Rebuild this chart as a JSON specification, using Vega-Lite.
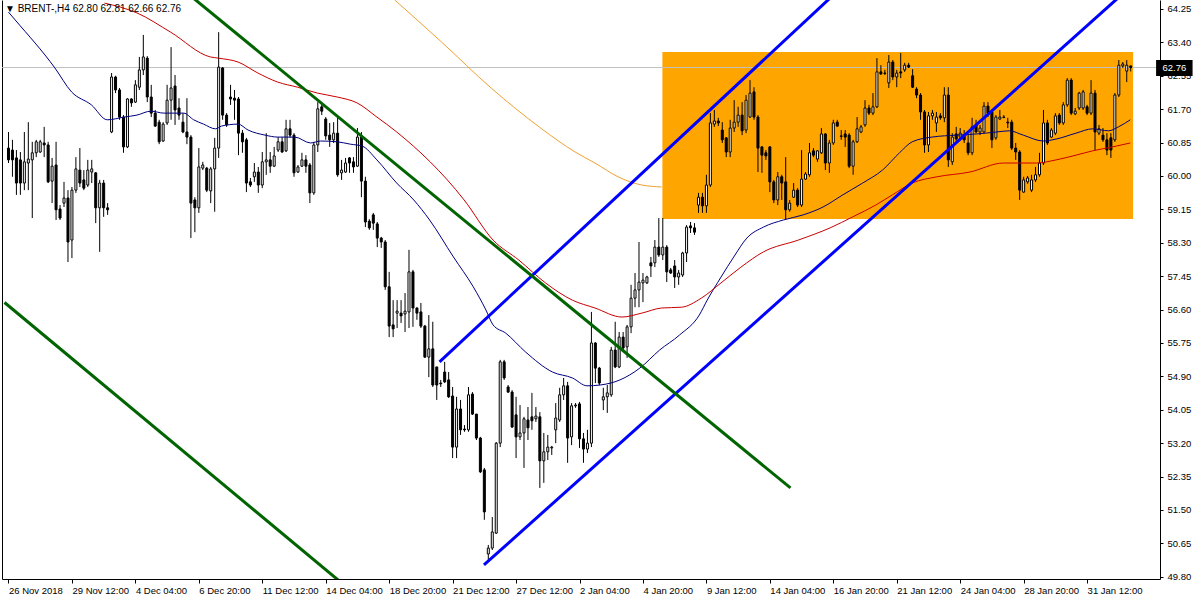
{
"$schema": "https://vega.github.io/schema/vega-lite/v6.json",
"width": 1158, "height": 579,
"autosize": {"type": "none"},
"padding": {"left": 2, "top": 0, "right": 40, "bottom": 21},
"background": "white",
"title": {"text": "▼  BRENT-,H4  62.80 62.81 62.66 62.76", "anchor": "start", "frame": "group", "offset": -14, "dx": 3, "font": "Liberation Sans", "fontSize": 10, "fontWeight": "normal", "color": "black"},
"config": {"view": {"stroke": null}},
"datasets": {
"candles": [
{"i":0,"o":60.71,"h":61.12,"l":60.33,"c":60.41},{"i":1,"o":60.66,"h":60.92,"l":59.98,"c":60.41},{"i":2,"o":60.46,"h":60.66,"l":59.52,"c":59.82},{"i":3,"o":60.41,"h":60.61,"l":59.52,"c":59.82},{"i":4,"o":59.82,"h":61.12,"l":59.64,"c":60.36},{"i":5,"o":60.33,"h":61.37,"l":59.64,"c":60.43},{"i":6,"o":60.41,"h":60.87,"l":58.93,"c":60.59},{"i":7,"o":60.59,"h":60.92,"l":60.48,"c":60.87},{"i":8,"o":60.61,"h":60.92,"l":60.59,"c":60.87},{"i":9,"o":60.84,"h":61.25,"l":60.48,"c":60.79},
{"i":10,"o":60.79,"h":60.87,"l":59.82,"c":59.85},{"i":11,"o":59.87,"h":60.46,"l":59.31,"c":60.25},{"i":12,"o":60.28,"h":60.87,"l":58.88,"c":59.14},{"i":13,"o":59.16,"h":59.26,"l":58.88,"c":58.93},{"i":14,"o":59.31,"h":59.85,"l":59.21,"c":59.44},{"i":15,"o":59.44,"h":59.64,"l":57.81,"c":58.32},{"i":16,"o":58.37,"h":59.72,"l":57.91,"c":59.64},{"i":17,"o":59.64,"h":60.48,"l":59.57,"c":60.18},{"i":18,"o":60.15,"h":60.71,"l":59.72,"c":59.82},{"i":19,"o":59.9,"h":60.15,"l":59.64,"c":59.69},
{"i":20,"o":59.77,"h":60.41,"l":59.72,"c":60.15},{"i":21,"o":60.1,"h":60.41,"l":59.82,"c":60.18},{"i":22,"o":60.08,"h":60.1,"l":58.8,"c":59.19},{"i":23,"o":59.19,"h":59.9,"l":58.07,"c":59.82},{"i":24,"o":59.82,"h":59.9,"l":58.96,"c":59.19},{"i":25,"o":59.19,"h":59.31,"l":59.01,"c":59.14},{"i":26,"o":61.12,"h":62.62,"l":61.09,"c":62.52},{"i":27,"o":62.52,"h":62.55,"l":62.11,"c":62.19},{"i":28,"o":62.19,"h":62.24,"l":61.43,"c":61.5},{"i":29,"o":61.5,"h":61.55,"l":60.59,"c":60.74},
{"i":30,"o":60.74,"h":61.98,"l":60.71,"c":61.96},{"i":31,"o":61.96,"h":61.98,"l":61.76,"c":61.86},{"i":32,"o":61.88,"h":62.44,"l":61.86,"c":62.32},{"i":33,"o":62.26,"h":63.03,"l":62.19,"c":62.7},{"i":34,"o":62.7,"h":63.59,"l":62.57,"c":63.03},{"i":35,"o":63.0,"h":63.05,"l":61.88,"c":62.01},{"i":36,"o":62.01,"h":62.32,"l":61.5,"c":61.6},{"i":37,"o":61.6,"h":61.68,"l":61.25,"c":61.27},{"i":38,"o":61.37,"h":61.43,"l":60.81,"c":60.87},{"i":39,"o":60.89,"h":61.37,"l":60.87,"c":61.32},
{"i":40,"o":61.35,"h":62.32,"l":61.3,"c":61.93},{"i":41,"o":61.93,"h":63.28,"l":61.43,"c":62.24},{"i":42,"o":62.29,"h":62.57,"l":61.3,"c":61.68},{"i":43,"o":61.73,"h":61.98,"l":61.43,"c":61.55},{"i":44,"o":61.37,"h":61.6,"l":61.09,"c":61.12},{"i":45,"o":61.12,"h":61.98,"l":60.81,"c":60.99},{"i":46,"o":60.99,"h":61.04,"l":58.42,"c":59.31},{"i":47,"o":59.39,"h":59.46,"l":58.57,"c":59.19},{"i":48,"o":59.19,"h":60.71,"l":59.06,"c":60.23},{"i":49,"o":60.2,"h":60.36,"l":60.15,"c":60.28},
{"i":50,"o":60.2,"h":60.23,"l":59.59,"c":59.64},{"i":51,"o":59.62,"h":60.23,"l":59.31,"c":60.18},{"i":52,"o":60.18,"h":60.97,"l":59.09,"c":60.71},{"i":53,"o":60.71,"h":63.66,"l":60.46,"c":62.77},{"i":54,"o":62.75,"h":62.77,"l":61.43,"c":61.55},{"i":55,"o":61.55,"h":61.6,"l":61.25,"c":61.3},{"i":56,"o":62.01,"h":62.32,"l":61.81,"c":61.96},{"i":57,"o":61.98,"h":62.19,"l":61.43,"c":61.93},{"i":58,"o":61.96,"h":62.01,"l":60.53,"c":61.09},{"i":59,"o":61.09,"h":61.17,"l":60.59,"c":60.87},
{"i":60,"o":60.92,"h":60.97,"l":59.59,"c":59.82},{"i":61,"o":59.85,"h":59.95,"l":59.72,"c":59.77},{"i":62,"o":59.98,"h":60.33,"l":59.85,"c":60.1},{"i":63,"o":60.1,"h":60.23,"l":59.57,"c":59.77},{"i":64,"o":59.77,"h":60.61,"l":59.69,"c":60.36},{"i":65,"o":60.36,"h":61.09,"l":60.03,"c":60.41},{"i":66,"o":60.41,"h":60.61,"l":60.08,"c":60.25},{"i":67,"o":60.25,"h":60.74,"l":60.23,"c":60.51},{"i":68,"o":60.66,"h":60.99,"l":60.61,"c":60.87},{"i":69,"o":60.87,"h":60.99,"l":60.59,"c":60.61},
{"i":70,"o":60.64,"h":61.43,"l":60.61,"c":61.2},{"i":71,"o":61.2,"h":61.43,"l":60.97,"c":61.04},{"i":72,"o":61.04,"h":61.09,"l":59.98,"c":60.08},{"i":73,"o":60.1,"h":60.28,"l":60.08,"c":60.23},{"i":74,"o":60.25,"h":60.59,"l":60.23,"c":60.41},{"i":75,"o":60.41,"h":60.53,"l":60.08,"c":60.25},{"i":76,"o":60.28,"h":60.33,"l":59.31,"c":59.57},{"i":77,"o":59.57,"h":60.87,"l":59.52,"c":60.79},{"i":78,"o":60.79,"h":61.88,"l":60.61,"c":61.71},{"i":79,"o":61.76,"h":61.81,"l":61.55,"c":61.65},
{"i":80,"o":61.45,"h":61.5,"l":60.92,"c":61.02},{"i":81,"o":61.04,"h":61.35,"l":60.74,"c":60.92},{"i":82,"o":60.92,"h":61.37,"l":60.84,"c":61.09},{"i":83,"o":61.09,"h":61.48,"l":59.98,"c":60.03},{"i":84,"o":60.08,"h":60.41,"l":59.9,"c":60.15},{"i":85,"o":60.1,"h":60.46,"l":60.08,"c":60.33},{"i":86,"o":60.46,"h":60.48,"l":60.08,"c":60.33},{"i":87,"o":60.36,"h":60.48,"l":60.08,"c":60.23},{"i":88,"o":60.25,"h":61.22,"l":60.23,"c":60.99},{"i":89,"o":60.99,"h":61.12,"l":59.46,"c":59.87},
{"i":90,"o":59.87,"h":59.98,"l":58.7,"c":58.83},{"i":91,"o":58.85,"h":58.9,"l":58.63,"c":58.68},{"i":92,"o":59.01,"h":59.06,"l":58.63,"c":58.8},{"i":93,"o":58.78,"h":58.83,"l":58.19,"c":58.42},{"i":94,"o":58.42,"h":58.45,"l":58.17,"c":58.32},{"i":95,"o":58.32,"h":58.37,"l":57.1,"c":57.18},{"i":96,"o":57.18,"h":57.56,"l":55.9,"c":56.18},{"i":97,"o":56.21,"h":56.84,"l":55.9,"c":56.11},{"i":98,"o":56.51,"h":56.84,"l":56.13,"c":56.56},{"i":99,"o":56.51,"h":56.84,"l":56.26,"c":56.44},
{"i":100,"o":56.49,"h":57.02,"l":56.03,"c":56.56},{"i":101,"o":56.54,"h":58.12,"l":56.13,"c":57.56},{"i":102,"o":57.56,"h":57.61,"l":56.16,"c":56.64},{"i":103,"o":56.64,"h":56.66,"l":56.34,"c":56.51},{"i":104,"o":56.54,"h":56.77,"l":56.13,"c":56.18},{"i":105,"o":56.18,"h":56.21,"l":55.37,"c":55.39},{"i":106,"o":55.39,"h":56.46,"l":54.88,"c":55.6},{"i":107,"o":55.6,"h":56.29,"l":54.63,"c":54.68},{"i":108,"o":55.14,"h":55.14,"l":54.3,"c":54.68},{"i":109,"o":54.73,"h":54.81,"l":54.63,"c":54.71},
{"i":110,"o":55.01,"h":55.27,"l":54.73,"c":54.76},{"i":111,"o":54.81,"h":55.01,"l":54.35,"c":54.38},{"i":112,"o":54.4,"h":54.63,"l":52.82,"c":53.1},{"i":113,"o":53.1,"h":54.38,"l":52.82,"c":54.07},{"i":114,"o":54.07,"h":54.3,"l":53.41,"c":53.54},{"i":115,"o":53.56,"h":53.66,"l":53.49,"c":53.54},{"i":116,"o":53.54,"h":54.63,"l":53.49,"c":54.43},{"i":117,"o":54.45,"h":54.5,"l":53.92,"c":53.94},{"i":118,"o":53.94,"h":53.94,"l":53.28,"c":53.33},{"i":119,"o":53.33,"h":53.36,"l":52.44,"c":52.47},
{"i":120,"o":52.52,"h":52.57,"l":51.25,"c":51.45},{"i":121,"o":50.38,"h":50.61,"l":50.23,"c":50.53},{"i":122,"o":50.53,"h":51.32,"l":50.48,"c":50.94},{"i":123,"o":50.91,"h":53.23,"l":50.89,"c":53.2},{"i":124,"o":53.2,"h":55.32,"l":53.1,"c":55.27},{"i":125,"o":55.27,"h":55.32,"l":54.81,"c":54.86},{"i":126,"o":54.63,"h":54.68,"l":54.48,"c":54.5},{"i":127,"o":54.5,"h":54.55,"l":53.59,"c":53.61},{"i":128,"o":53.92,"h":54.38,"l":52.82,"c":53.36},{"i":129,"o":53.36,"h":54.17,"l":53.28,"c":53.46},
{"i":130,"o":53.46,"h":53.87,"l":52.57,"c":53.82},{"i":131,"o":53.79,"h":54.12,"l":53.28,"c":53.59},{"i":132,"o":53.87,"h":54.48,"l":53.54,"c":53.77},{"i":133,"o":53.82,"h":54.12,"l":53.74,"c":53.89},{"i":134,"o":53.87,"h":53.99,"l":52.06,"c":52.75},{"i":135,"o":52.75,"h":53.46,"l":52.19,"c":52.98},{"i":136,"o":52.98,"h":53.41,"l":52.77,"c":53.1},{"i":137,"o":53.08,"h":53.13,"l":52.9,"c":53.1},{"i":138,"o":53.54,"h":54.22,"l":53.2,"c":53.84},{"i":139,"o":53.79,"h":54.61,"l":53.74,"c":54.43},
{"i":140,"o":54.43,"h":54.86,"l":54.3,"c":54.66},{"i":141,"o":54.66,"h":54.76,"l":52.7,"c":53.33},{"i":142,"o":53.36,"h":54.22,"l":53.15,"c":54.15},{"i":143,"o":54.15,"h":54.22,"l":54.1,"c":54.17},{"i":144,"o":54.2,"h":54.25,"l":53.08,"c":53.31},{"i":145,"o":53.31,"h":53.46,"l":52.7,"c":53.05},{"i":146,"o":53.05,"h":53.54,"l":52.95,"c":53.2},{"i":147,"o":53.2,"h":56.54,"l":53.1,"c":55.75},{"i":148,"o":55.75,"h":55.77,"l":54.73,"c":55.11},{"i":149,"o":55.11,"h":55.14,"l":54.68,"c":54.73},
{"i":150,"o":54.3,"h":54.61,"l":54.04,"c":54.38},{"i":151,"o":54.38,"h":54.68,"l":53.97,"c":54.48},{"i":152,"o":54.43,"h":55.65,"l":54.38,"c":55.57},{"i":153,"o":55.57,"h":56.29,"l":55.11,"c":55.14},{"i":154,"o":55.14,"h":56.03,"l":55.11,"c":55.9},{"i":155,"o":55.9,"h":56.03,"l":55.57,"c":55.62},{"i":156,"o":55.65,"h":56.21,"l":55.37,"c":56.16},{"i":157,"o":56.16,"h":57.23,"l":56.0,"c":56.89},{"i":158,"o":56.89,"h":57.53,"l":56.66,"c":57.1},{"i":159,"o":57.1,"h":58.32,"l":56.66,"c":57.3},
{"i":160,"o":57.28,"h":57.53,"l":56.79,"c":57.35},{"i":161,"o":57.28,"h":57.46,"l":57.25,"c":57.43},{"i":162,"o":57.79,"h":57.94,"l":57.43,"c":57.71},{"i":163,"o":57.79,"h":58.37,"l":57.68,"c":58.19},{"i":164,"o":58.19,"h":58.93,"l":57.94,"c":57.99},{"i":165,"o":57.99,"h":58.93,"l":57.86,"c":58.19},{"i":166,"o":58.19,"h":58.24,"l":57.3,"c":57.56},{"i":167,"o":57.61,"h":57.66,"l":57.51,"c":57.53},{"i":168,"o":57.71,"h":57.86,"l":57.15,"c":57.43},{"i":169,"o":57.43,"h":57.61,"l":57.23,"c":57.53},
{"i":170,"o":57.48,"h":58.07,"l":57.43,"c":58.04},{"i":171,"o":58.04,"h":58.75,"l":57.81,"c":58.7},{"i":172,"o":58.73,"h":58.83,"l":58.55,"c":58.68},{"i":173,"o":58.68,"h":58.8,"l":58.5,"c":58.57},{"i":174,"o":59.26,"h":59.57,"l":59.06,"c":59.46},{"i":175,"o":59.46,"h":59.57,"l":59.06,"c":59.24},{"i":176,"o":59.24,"h":60.03,"l":59.06,"c":59.77},{"i":177,"o":59.77,"h":61.6,"l":59.72,"c":61.35},{"i":178,"o":61.32,"h":61.68,"l":61.25,"c":61.4},{"i":179,"o":61.4,"h":61.48,"l":61.27,"c":61.35},
{"i":180,"o":61.17,"h":61.37,"l":60.84,"c":60.92},{"i":181,"o":60.97,"h":60.99,"l":60.48,"c":60.61},{"i":182,"o":60.61,"h":61.43,"l":60.48,"c":61.22},{"i":183,"o":61.22,"h":61.93,"l":61.12,"c":61.37},{"i":184,"o":61.37,"h":61.76,"l":61.25,"c":61.55},{"i":185,"o":61.55,"h":61.88,"l":61.04,"c":61.15},{"i":186,"o":61.17,"h":62.06,"l":61.09,"c":61.93},{"i":187,"o":61.5,"h":62.44,"l":61.48,"c":62.11},{"i":188,"o":62.14,"h":62.26,"l":61.43,"c":61.5},{"i":189,"o":61.5,"h":61.55,"l":60.1,"c":60.71},
{"i":190,"o":60.74,"h":60.76,"l":60.08,"c":60.53},{"i":191,"o":60.59,"h":60.66,"l":60.41,"c":60.51},{"i":192,"o":60.74,"h":60.76,"l":59.59,"c":59.85},{"i":193,"o":59.85,"h":59.9,"l":59.31,"c":59.39},{"i":194,"o":59.39,"h":60.1,"l":59.26,"c":59.98},{"i":195,"o":59.98,"h":60.03,"l":59.39,"c":59.82},{"i":196,"o":59.85,"h":60.48,"l":58.88,"c":59.14},{"i":197,"o":59.14,"h":59.39,"l":59.09,"c":59.31},{"i":198,"o":59.46,"h":59.82,"l":59.44,"c":59.64},{"i":199,"o":59.64,"h":59.69,"l":59.21,"c":59.26},
{"i":200,"o":59.26,"h":60.66,"l":59.21,"c":59.92},{"i":201,"o":59.92,"h":60.1,"l":59.9,"c":60.05},{"i":202,"o":60.03,"h":60.84,"l":59.98,"c":60.59},{"i":203,"o":60.64,"h":60.71,"l":60.48,"c":60.53},{"i":204,"o":60.43,"h":60.66,"l":60.36,"c":60.64},{"i":205,"o":60.59,"h":61.22,"l":60.56,"c":61.07},{"i":206,"o":61.07,"h":61.09,"l":60.15,"c":60.33},{"i":207,"o":60.33,"h":60.92,"l":60.08,"c":60.84},{"i":208,"o":60.84,"h":61.43,"l":60.79,"c":61.35},{"i":209,"o":61.37,"h":61.43,"l":61.25,"c":61.27},
{"i":210,"o":61.02,"h":61.17,"l":60.92,"c":61.01},{"i":211,"o":61.07,"h":61.17,"l":60.74,"c":60.99},{"i":212,"o":61.04,"h":61.09,"l":60.2,"c":60.25},{"i":213,"o":60.25,"h":60.92,"l":60.03,"c":60.87},{"i":214,"o":60.87,"h":61.5,"l":60.84,"c":61.2},{"i":215,"o":61.12,"h":61.3,"l":61.09,"c":61.25},{"i":216,"o":61.3,"h":61.93,"l":61.25,"c":61.73},{"i":217,"o":61.73,"h":61.81,"l":61.55,"c":61.6},{"i":218,"o":61.6,"h":62.11,"l":61.55,"c":61.76},{"i":219,"o":61.76,"h":63.0,"l":61.73,"c":62.65},
{"i":220,"o":62.65,"h":62.82,"l":62.57,"c":62.6},{"i":221,"o":62.62,"h":62.7,"l":62.57,"c":62.61},{"i":222,"o":62.37,"h":63.08,"l":62.24,"c":62.9},{"i":223,"o":62.9,"h":62.95,"l":62.44,"c":62.52},{"i":224,"o":62.52,"h":62.7,"l":62.26,"c":62.62},{"i":225,"o":62.65,"h":63.13,"l":62.49,"c":62.62},{"i":226,"o":62.7,"h":62.88,"l":62.65,"c":62.82},{"i":227,"o":62.82,"h":62.88,"l":62.75,"c":62.77},{"i":228,"o":62.55,"h":62.72,"l":62.24,"c":62.26},{"i":229,"o":62.21,"h":62.26,"l":61.98,"c":62.06},
{"i":230,"o":62.06,"h":62.11,"l":61.43,"c":61.63},{"i":231,"o":61.63,"h":61.68,"l":60.59,"c":60.79},{"i":232,"o":60.79,"h":61.63,"l":60.61,"c":61.53},{"i":233,"o":61.53,"h":61.68,"l":61.43,"c":61.6},{"i":234,"o":61.35,"h":61.63,"l":61.12,"c":61.5},{"i":235,"o":61.53,"h":61.6,"l":61.43,"c":61.48},{"i":236,"o":61.48,"h":62.26,"l":61.37,"c":62.06},{"i":237,"o":62.06,"h":62.26,"l":60.23,"c":60.41},{"i":238,"o":60.36,"h":61.09,"l":60.28,"c":60.99},{"i":239,"o":61.07,"h":61.25,"l":60.84,"c":60.94},
{"i":240,"o":60.99,"h":61.22,"l":60.92,"c":61.09},{"i":241,"o":61.04,"h":61.17,"l":60.84,"c":60.92},{"i":242,"o":60.84,"h":61.04,"l":60.53,"c":60.59},{"i":243,"o":60.59,"h":61.48,"l":60.53,"c":61.25},{"i":244,"o":61.3,"h":61.43,"l":61.09,"c":61.12},{"i":245,"o":61.12,"h":61.3,"l":61.04,"c":61.22},{"i":246,"o":61.12,"h":61.88,"l":61.09,"c":61.78},{"i":247,"o":61.78,"h":61.88,"l":61.5,"c":61.6},{"i":248,"o":61.63,"h":61.68,"l":60.71,"c":60.92},{"i":249,"o":60.97,"h":61.55,"l":60.92,"c":61.5},
{"i":250,"o":61.45,"h":61.68,"l":61.43,"c":61.5},{"i":251,"o":61.5,"h":61.55,"l":61.47,"c":61.49},{"i":252,"o":61.37,"h":61.48,"l":61.22,"c":61.35},{"i":253,"o":61.37,"h":61.43,"l":60.66,"c":60.71},{"i":254,"o":60.71,"h":60.84,"l":60.41,"c":60.61},{"i":255,"o":60.61,"h":60.66,"l":59.39,"c":59.64},{"i":256,"o":59.59,"h":59.98,"l":59.57,"c":59.9},{"i":257,"o":59.85,"h":60.0,"l":59.8,"c":59.95},{"i":258,"o":59.64,"h":60.03,"l":59.59,"c":59.9},{"i":259,"o":59.9,"h":60.23,"l":59.85,"c":60.03},
{"i":260,"o":60.03,"h":60.59,"l":59.98,"c":60.33},{"i":261,"o":60.33,"h":61.68,"l":60.28,"c":61.35},{"i":262,"o":61.35,"h":61.43,"l":60.79,"c":60.84},{"i":263,"o":60.99,"h":61.22,"l":60.97,"c":61.17},{"i":264,"o":61.09,"h":61.6,"l":61.04,"c":61.53},{"i":265,"o":61.55,"h":61.6,"l":61.3,"c":61.35},{"i":266,"o":61.35,"h":61.88,"l":61.3,"c":61.81},{"i":267,"o":61.81,"h":62.49,"l":61.76,"c":62.44},{"i":268,"o":62.44,"h":62.49,"l":61.55,"c":61.6},{"i":269,"o":61.58,"h":61.73,"l":61.55,"c":61.65},
{"i":270,"o":61.73,"h":62.14,"l":61.68,"c":62.11},{"i":271,"o":61.73,"h":62.19,"l":61.68,"c":62.14},{"i":272,"o":61.76,"h":61.81,"l":61.55,"c":61.6},{"i":273,"o":61.6,"h":62.44,"l":61.55,"c":62.11},{"i":274,"o":62.11,"h":62.19,"l":60.66,"c":61.12},{"i":275,"o":61.09,"h":61.3,"l":61.04,"c":61.2},{"i":276,"o":61.04,"h":61.22,"l":60.87,"c":60.92},{"i":277,"o":60.92,"h":61.09,"l":60.53,"c":60.66},{"i":278,"o":60.97,"h":61.09,"l":60.46,"c":60.66},{"i":279,"o":60.92,"h":62.11,"l":60.87,"c":62.06},
{"i":280,"o":62.06,"h":62.95,"l":62.01,"c":62.82},{"i":281,"o":62.8,"h":62.9,"l":62.75,"c":62.85},{"i":282,"o":62.67,"h":62.95,"l":62.39,"c":62.82},{"i":283,"o":62.8,"h":62.81,"l":62.66,"c":62.76}
],
"ma": [
{"s":"b","i":0,"p":64.17},{"s":"b","i":1.7,"p":63.97},{"s":"b","i":11.7,"p":62.75},{"s":"b","i":15.9,"p":62.14},{"s":"b","i":20.9,"p":61.81},{"s":"b","i":24.9,"p":61.43},{"s":"b","i":29.2,"p":61.5},{"s":"b","i":32.4,"p":61.55},{"s":"b","i":35.9,"p":61.65},{"s":"b","i":39.2,"p":61.6},{"s":"b","i":44.2,"p":61.6},{"s":"b","i":46.7,"p":61.43},{"s":"b","i":49.2,"p":61.32},{"s":"b","i":52.2,"p":61.2},{"s":"b","i":53.7,"p":61.27},{"s":"b","i":57.9,"p":61.32},{"s":"b","i":60.4,"p":61.17},{"s":"b","i":64.7,"p":61.04},{"s":"b","i":67.9,"p":60.99},{"s":"b","i":72.2,"p":60.99},{"s":"b","i":76.2,"p":60.84},{"s":"b","i":78.7,"p":60.89},{"s":"b","i":82.9,"p":60.87},{"s":"b","i":86.2,"p":60.81},{"s":"b","i":89.2,"p":60.76},{"s":"b","i":92.9,"p":60.41},{"s":"b","i":97.9,"p":59.82},{"s":"b","i":102.2,"p":59.39},{"s":"b","i":106.2,"p":58.88},{"s":"b","i":112.2,"p":57.94},{"s":"b","i":117.2,"p":57.18},{"s":"b","i":120.4,"p":56.59},{"s":"b","i":122.2,"p":56.21},{"s":"b","i":125.4,"p":56.0},{"s":"b","i":130.4,"p":55.52},{"s":"b","i":137.2,"p":55.01},{"s":"b","i":142.2,"p":54.86},{"s":"b","i":145.9,"p":54.66},{"s":"b","i":149.2,"p":54.68},{"s":"b","i":154.2,"p":54.81},{"s":"b","i":159.2,"p":55.11},{"s":"b","i":164.2,"p":55.57},{"s":"b","i":169.2,"p":55.95},{"s":"b","i":174.2,"p":56.46},{"s":"b","i":176.2,"p":56.84},{"s":"b","i":179.7,"p":57.43},{"s":"b","i":182.9,"p":57.94},{"s":"b","i":186.2,"p":58.42},{"s":"b","i":190.4,"p":58.7},{"s":"b","i":195.4,"p":58.88},{"s":"b","i":200.4,"p":59.01},{"s":"b","i":205.4,"p":59.21},{"s":"b","i":210.4,"p":59.52},{"s":"b","i":215.4,"p":59.82},{"s":"b","i":220.4,"p":60.15},{"s":"b","i":224.7,"p":60.59},{"s":"b","i":227.9,"p":60.87},{"s":"b","i":232.9,"p":60.99},{"s":"b","i":239.2,"p":61.04},{"s":"b","i":244.2,"p":61.07},{"s":"b","i":249.2,"p":61.12},{"s":"b","i":252.4,"p":61.15},{"s":"b","i":255.9,"p":61.04},{"s":"b","i":260.9,"p":60.89},{"s":"b","i":264.2,"p":60.94},{"s":"b","i":269.2,"p":61.09},{"s":"b","i":273.4,"p":61.2},{"s":"b","i":277.4,"p":61.15},{"s":"b","i":279.9,"p":61.25},{"s":"b","i":282.9,"p":61.43},
{"s":"r","i":24.2,"p":64.4},{"s":"r","i":32.4,"p":64.15},{"s":"r","i":40.9,"p":63.66},{"s":"r","i":50.9,"p":63.03},{"s":"r","i":52.9,"p":63.0},{"s":"r","i":57.9,"p":62.9},{"s":"r","i":62.9,"p":62.62},{"s":"r","i":67.9,"p":62.39},{"s":"r","i":72.9,"p":62.26},{"s":"r","i":77.9,"p":62.11},{"s":"r","i":82.9,"p":62.01},{"s":"r","i":87.9,"p":61.86},{"s":"r","i":92.9,"p":61.5},{"s":"r","i":97.9,"p":61.12},{"s":"r","i":114.9,"p":59.39},{"s":"r","i":122.2,"p":58.37},{"s":"r","i":128.7,"p":57.86},{"s":"r","i":135.4,"p":57.28},{"s":"r","i":142.2,"p":56.84},{"s":"r","i":147.9,"p":56.64},{"s":"r","i":154.7,"p":56.41},{"s":"r","i":159.7,"p":56.51},{"s":"r","i":164.7,"p":56.64},{"s":"r","i":169.7,"p":56.66},{"s":"r","i":174.7,"p":56.89},{"s":"r","i":179.7,"p":57.28},{"s":"r","i":184.7,"p":57.68},{"s":"r","i":190.4,"p":58.07},{"s":"r","i":199.2,"p":58.37},{"s":"r","i":207.2,"p":58.68},{"s":"r","i":212.9,"p":58.96},{"s":"r","i":218.7,"p":59.26},{"s":"r","i":222.9,"p":59.52},{"s":"r","i":227.9,"p":59.82},{"s":"r","i":234.2,"p":59.98},{"s":"r","i":242.4,"p":60.1},{"s":"r","i":250.9,"p":60.33},{"s":"r","i":259.2,"p":60.33},{"s":"r","i":264.2,"p":60.41},{"s":"r","i":269.2,"p":60.53},{"s":"r","i":273.4,"p":60.64},{"s":"r","i":278.4,"p":60.74},{"s":"r","i":282.9,"p":60.84},
{"s":"o","i":97.4,"p":64.48},{"s":"o","i":109.2,"p":63.41},{"s":"o","i":121.7,"p":62.24},{"s":"o","i":134.2,"p":61.22},{"s":"o","i":142.9,"p":60.61},{"s":"o","i":147.9,"p":60.33},{"s":"o","i":153.7,"p":59.98},{"s":"o","i":159.7,"p":59.77},{"s":"o","i":164.7,"p":59.72}
],
"tl": [
{"s":"A","i":108.7,"p":55.27},{"s":"A","i":212.2,"p":65.0},
{"s":"B","i":119.9,"p":50.1},{"s":"B","i":285.0,"p":65.0},
{"s":"C","i":40.9,"p":65.0},{"s":"C","i":197.2,"p":52.06},
{"s":"D","i":-1,"p":56.78},{"s":"D","i":85,"p":49.56}
]
},
"layer": [
{"data": {"values": [{"a":164.9,"b":283.6,"lo":58.905,"hi":63.155}]},
 "mark": {"type": "rect", "color": "#FFA500"},
 "encoding": {
  "x": {"field": "a", "type": "quantitative", "scale": {"domain": [-0.375, 289.125], "nice": false, "zero": false}, "axis": null},
  "x2": {"field": "b"},
  "y": {"field": "lo", "type": "quantitative", "scale": {"domain": [49.743, 64.479], "nice": false, "zero": false}, "axis": null},
  "y2": {"field": "hi"}}},
{"data": {"values": [{"p": 62.76}]},
 "mark": {"type": "rule", "color": "#C0C0C0", "strokeWidth": 1},
 "encoding": {"y": {"field": "p", "type": "quantitative", "scale": {"domain": [49.743, 64.479], "nice": false, "zero": false}, "axis": null}}},
{"data": {"name": "candles"},
 "mark": {"type": "rule", "color": "black", "strokeWidth": 1},
 "encoding": {
  "x": {"field": "i", "type": "quantitative", "scale": {"domain": [-0.375, 289.125], "nice": false, "zero": false},
        "axis": {"orient": "bottom", "values": [0,16,32,48,64,80,96,112,128,144,160,176,192,208,224,240,256,272],
                 "labelExpr": "['26 Nov 2018','29 Nov 12:00','4 Dec 04:00','6 Dec 20:00','11 Dec 12:00','14 Dec 04:00','18 Dec 20:00','21 Dec 12:00','27 Dec 12:00','2 Jan 04:00','4 Jan 20:00','9 Jan 12:00','14 Jan 04:00','16 Jan 20:00','21 Jan 12:00','24 Jan 04:00','28 Jan 20:00','31 Jan 12:00'][round(datum.value/16)]",
                 "labelAlign": "left", "labelBaseline": "top", "labelPadding": 2, "tickSize": 4, "labelFlush": false, "labelOverlap": false, "grid": false, "title": null,
                 "domainColor": "black", "tickColor": "black", "labelColor": "black", "labelFont": "Liberation Sans", "labelFontSize": 9.5}},
  "y": {"field": "l", "type": "quantitative", "scale": {"domain": [49.743, 64.479], "nice": false, "zero": false},
        "axis": {"orient": "right", "values": [49.8,50.65,51.5,52.35,53.2,54.05,54.9,55.75,56.6,57.45,58.3,59.15,60.0,60.85,61.7,62.55,63.4,64.25],
                 "format": ".2f", "tickSize": 3, "labelPadding": 4, "labelFlush": false, "labelOverlap": false, "grid": false, "title": null,
                 "domainColor": "black", "tickColor": "black", "labelColor": "black", "labelFont": "Liberation Sans", "labelFontSize": 9.5}},
  "y2": {"field": "h"}}},
{"data": {"name": "candles"},
 "mark": {"type": "bar", "size": 2, "stroke": "black", "strokeWidth": 1},
 "encoding": {
  "x": {"field": "i", "type": "quantitative", "scale": {"domain": [-0.375, 289.125], "nice": false, "zero": false}, "axis": null},
  "y": {"field": "o", "type": "quantitative", "scale": {"domain": [49.743, 64.479], "nice": false, "zero": false},
        "axis": {"orient": "left", "labels": false, "ticks": false, "grid": false, "title": null, "domainColor": "black"}},
  "y2": {"field": "c"},
  "fill": {"condition": {"test": "datum.c > datum.o", "value": "white"}, "value": "black"}}},
{"data": {"name": "ma"},
 "mark": {"type": "line", "strokeWidth": 1, "interpolate": "monotone", "clip": true},
 "encoding": {
  "x": {"field": "i", "type": "quantitative", "scale": {"domain": [-0.375, 289.125], "nice": false, "zero": false}, "axis": null},
  "y": {"field": "p", "type": "quantitative", "scale": {"domain": [49.743, 64.479], "nice": false, "zero": false}, "axis": null},
  "color": {"field": "s", "type": "nominal", "scale": {"domain": ["b","r","o"], "range": ["#000080","#C80000","#F0A030"]}, "legend": null}}},
{"data": {"name": "tl"},
 "mark": {"type": "line", "strokeWidth": 3, "clip": true},
 "encoding": {
  "x": {"field": "i", "type": "quantitative", "scale": {"domain": [-0.375, 289.125], "nice": false, "zero": false}, "axis": null},
  "y": {"field": "p", "type": "quantitative", "scale": {"domain": [49.743, 64.479], "nice": false, "zero": false}, "axis": null},
  "detail": {"field": "s"},
  "stroke": {"field": "s", "type": "nominal", "scale": {"domain": ["A","B","C","D"], "range": ["#0000FF","#0000FF","#006400","#006400"]}, "legend": null}}},
{"data": {"values": [{"a":289.4,"b":298.6,"lo":62.545,"hi":62.95}]},
 "mark": {"type": "rect", "color": "black"},
 "encoding": {
  "x": {"field": "a", "type": "quantitative", "scale": {"domain": [-0.375, 289.125], "nice": false, "zero": false}, "axis": null},
  "x2": {"field": "b"},
  "y": {"field": "lo", "type": "quantitative", "scale": {"domain": [49.743, 64.479], "nice": false, "zero": false}, "axis": null},
  "y2": {"field": "hi"}}},
{"data": {"values": [{"a":294,"p":62.75,"t":"62.76"}]},
 "mark": {"type": "text", "color": "white", "font": "Liberation Sans", "fontSize": 9.5, "align": "center", "baseline": "middle"},
 "encoding": {
  "x": {"field": "a", "type": "quantitative", "scale": {"domain": [-0.375, 289.125], "nice": false, "zero": false}, "axis": null},
  "y": {"field": "p", "type": "quantitative", "scale": {"domain": [49.743, 64.479], "nice": false, "zero": false}, "axis": null},
  "text": {"field": "t"}}}
],
"resolve": {"axis": {"x": "independent", "y": "independent"}, "scale": {"color": "independent", "stroke": "independent"}}
}
